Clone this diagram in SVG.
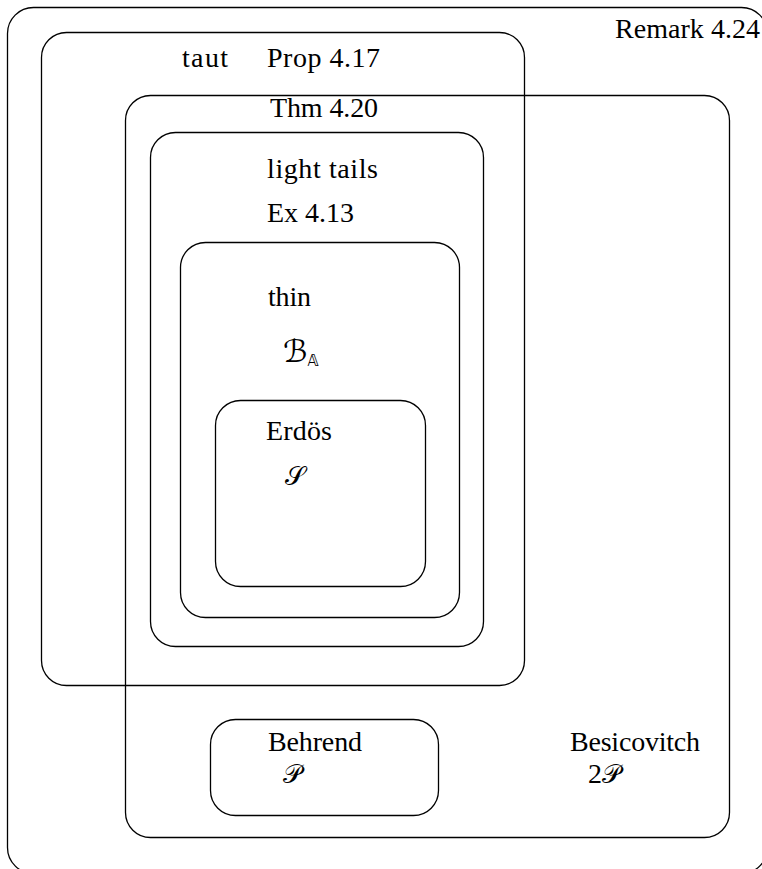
<svg xmlns="http://www.w3.org/2000/svg" width="762" height="869" viewBox="0 0 762 869">
<style>
.box{fill:none;stroke:#000;stroke-width:1.3}
.t{font-family:"Liberation Serif","DejaVu Serif",serif;font-size:28px;fill:#000}
.s{font-family:"DejaVu Serif","DejaVu Sans","Noto Sans",serif;font-size:26px;fill:#000}
.sb{font-family:"DejaVu Serif","DejaVu Sans","Noto Sans",serif;font-size:31px;fill:#000}
.ss{font-family:"DejaVu Sans","Noto Sans",sans-serif;font-size:15px;fill:#000}
</style>
<rect width="762" height="869" fill="#fff"/>
<g id="remark">
<rect class="box" x="7.5" y="7.5" width="760" height="866" rx="26"/>
<text class="t" x="615" y="38" textLength="145">Remark 4.24</text>
</g>
<g id="taut">
<rect class="box" x="41.5" y="32.5" width="483" height="653" rx="25"/>
<text class="t" x="182" y="67" textLength="46">taut</text>
<text class="t" x="267" y="67" textLength="113">Prop 4.17</text>
</g>
<g id="thm420">
<rect class="box" x="125.5" y="95.5" width="604" height="742" rx="25"/>
<text class="t" x="270" y="117" textLength="108">Thm 4.20</text>
<text class="t" x="570" y="751" textLength="130">Besicovitch</text>
<text class="t" x="588" y="783">2<tspan class="s">𝒫</tspan></text>
</g>
<g id="lighttails">
<rect class="box" x="150.5" y="132.5" width="333" height="514" rx="25"/>
<text class="t" x="267" y="178" textLength="111">light tails</text>
<text class="t" x="267" y="222" textLength="87">Ex 4.13</text>
</g>
<g id="thin">
<rect class="box" x="180.5" y="242.5" width="279" height="375" rx="25"/>
<text class="t" x="268" y="306" textLength="43">thin</text>
<text class="sb" x="283" y="362">ℬ<tspan class="ss" dy="4">𝔸</tspan></text>
</g>
<g id="erdos">
<rect class="box" x="215.5" y="400.5" width="210" height="186" rx="25"/>
<text class="t" x="266" y="440" textLength="66">Erdös</text>
<text class="s" x="285" y="485">𝒮</text>
</g>
<g id="behrend">
<rect class="box" x="210.5" y="719.5" width="228" height="96" rx="25"/>
<text class="t" x="268" y="751" textLength="94">Behrend</text>
<text class="s" x="283" y="783">𝒫</text>
</g>
<g id="connectors"></g>
</svg>
